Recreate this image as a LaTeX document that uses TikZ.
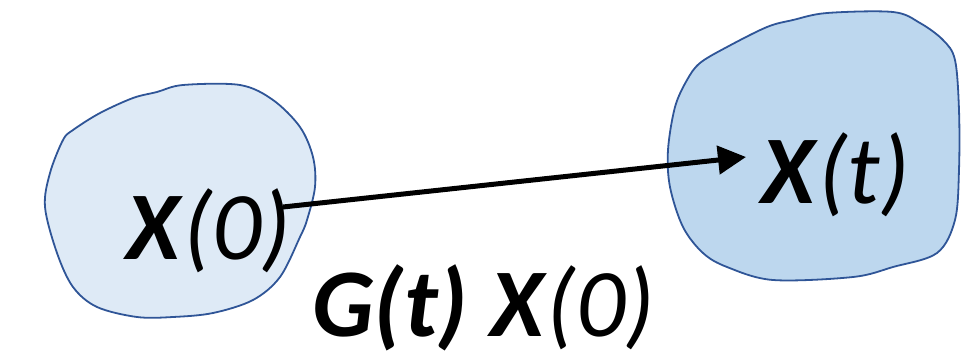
\documentclass[tikz,border=0pt]{standalone}
\usepackage{fontspec}
\setmainfont{Carlito}
\usetikzlibrary{arrows.meta}
\definecolor{lightfill}{HTML}{DEEAF6}
\definecolor{midfill}{HTML}{BDD7EE}
\definecolor{edgeblue}{HTML}{2F5597}
\tikzset{
  blob/.style={draw=edgeblue, line width=1.8pt},
  lbl/.style={anchor=base west, inner sep=0pt, font=\fontsize{97}{105}\selectfont},
  flow/.style={line width=5pt, -{Triangle[length=28pt,width=28pt]}}
}
\begin{document}
\begin{tikzpicture}[x=1pt,y=-1pt]
\useasboundingbox (0,0) rectangle (962,362);
% left blob
\filldraw[blob, fill=lightfill] plot[smooth cycle, tension=0.55] coordinates {
(183,85) (240,85) (273,100) (300,127) (313,157) (315,187) (307,220) (300,237)
(280,277) (253,300) (213,313) (173,317) (137,317) (97,307) (73,287) (57,253)
(45,207) (50,173) (63,140) (73,130) (100,113) (133,98) (157,92)};
% right blob
\filldraw[blob, fill=midfill] plot[smooth cycle, tension=0.55] coordinates {
(827,13) (893,12) (920,23) (943,40) (955,60) (959,110) (959,170) (955,220)
(937,253) (893,267) (853,277) (773,280) (727,267) (703,253) (683,227) (670,187)
(668,150) (675,107) (687,80) (700,63) (727,47) (767,27) (793,20)};
\node[lbl] (x0) at (126,259) {\textbf{\textit{X}}\textit{(0)}};
\node[lbl] (xt) at (761,203) {\textbf{\textit{X}}\textit{(t)}};
\node[lbl] (g) at (312,336) {\textbf{\textit{G(t) X}}\textit{(0)}};
\coordinate (s) at (283,207);
\coordinate (e) at (746,157);
\draw[flow] (s) -- (e);
\end{tikzpicture}
\end{document}
